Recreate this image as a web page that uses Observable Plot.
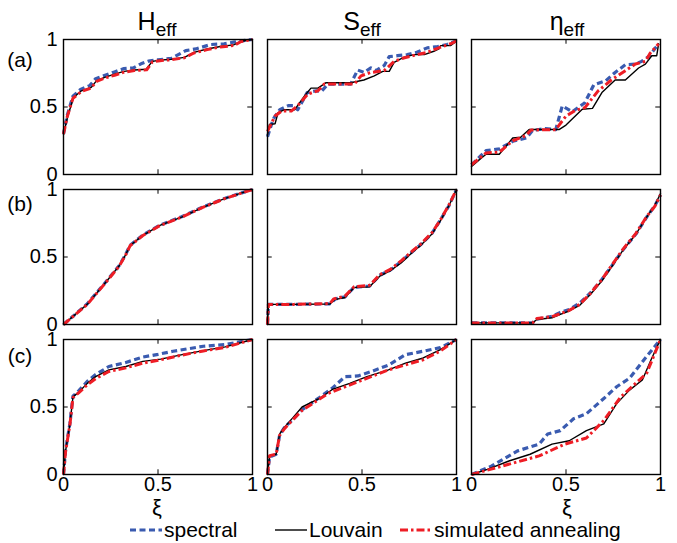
<!DOCTYPE html>
<html>
<head>
<meta charset="utf-8">
<script src="https://cdn.jsdelivr.net/npm/d3@7"></script>
<script src="https://cdn.jsdelivr.net/npm/@observablehq/plot@0.6"></script>
<style>
  html, body { margin: 0; padding: 0; background: #fff; }
  #chart { width: 677px; height: 543px; }
</style>
</head>
<body>
<div id="chart"></div>
<script>
// ---- categories & ticks ----
const colKeys = ["H", "S", "eta"];
const colSymbols = ["H", "S", "η"];
const rowKeys = ["a", "b", "c"];
const rowLabels = ["(a)", "(b)", "(c)"];
const xiTicks = [0, 0.5, 1];
const valueTicks = [0, 0.5, 1];
const seriesNames = ["spectral", "Louvain", "simulated annealing"];

// ---- row (a) ----
const a_H_spectral = [[0,0.30],[0.02,0.44],[0.05,0.58],[0.09,0.63],[0.14,0.66],[0.17,0.71],[0.22,0.735],[0.27,0.76],[0.32,0.785],[0.37,0.79],[0.41,0.82],[0.45,0.84],[0.5,0.85],[0.57,0.86],[0.647,0.918],[0.7,0.93],[0.78,0.963],[0.85,0.968],[0.9,0.98],[0.94,0.99],[1,1]];
const a_H_louvain = [[0,0.296],[0.02,0.42],[0.053,0.57],[0.095,0.62],[0.147,0.645],[0.174,0.694],[0.218,0.719],[0.27,0.744],[0.32,0.764],[0.375,0.774],[0.437,0.78],[0.47,0.838],[0.516,0.848],[0.568,0.853],[0.64,0.868],[0.69,0.905],[0.76,0.93],[0.83,0.948],[0.9,0.96],[0.94,0.987],[1,1]];
const a_H_annealing = [[0,0.3],[0.02,0.43],[0.05,0.565],[0.095,0.615],[0.145,0.64],[0.175,0.69],[0.22,0.715],[0.27,0.735],[0.32,0.758],[0.375,0.77],[0.44,0.775],[0.47,0.835],[0.52,0.845],[0.57,0.85],[0.64,0.865],[0.69,0.9],[0.76,0.925],[0.83,0.945],[0.9,0.955],[0.94,0.985],[1,1]];

const a_S_spectral = [[0,0.28],[0.03,0.41],[0.065,0.48],[0.11,0.51],[0.135,0.51],[0.16,0.48],[0.21,0.607],[0.258,0.62],[0.284,0.614],[0.32,0.67],[0.44,0.67],[0.477,0.774],[0.51,0.756],[0.547,0.79],[0.574,0.77],[0.617,0.806],[0.644,0.873],[0.688,0.88],[0.74,0.888],[0.79,0.905],[0.845,0.938],[0.9,0.948],[0.95,0.963],[1,0.99]];
const a_S_louvain = [[0,0.296],[0.01,0.37],[0.04,0.376],[0.056,0.458],[0.09,0.48],[0.144,0.48],[0.196,0.582],[0.23,0.64],[0.267,0.64],[0.31,0.68],[0.44,0.68],[0.51,0.70],[0.565,0.73],[0.61,0.764],[0.644,0.764],[0.67,0.83],[0.72,0.868],[0.775,0.888],[0.83,0.888],[0.88,0.913],[0.907,0.93],[0.916,0.955],[0.97,0.955],[1,0.99]];
const a_S_annealing = [[0,0.32],[0.04,0.433],[0.074,0.47],[0.126,0.47],[0.16,0.51],[0.214,0.597],[0.267,0.62],[0.3,0.67],[0.46,0.67],[0.495,0.731],[0.547,0.756],[0.617,0.769],[0.67,0.838],[0.72,0.863],[0.79,0.888],[0.845,0.905],[0.916,0.943],[0.977,0.973],[1,0.99]];

const a_E_spectral = [[0,0.072],[0.077,0.177],[0.147,0.19],[0.218,0.246],[0.29,0.27],[0.323,0.326],[0.39,0.34],[0.446,0.333],[0.48,0.507],[0.533,0.465],[0.6,0.532],[0.647,0.664],[0.71,0.694],[0.76,0.756],[0.814,0.813],[0.867,0.818],[0.9,0.838],[0.937,0.873],[0.99,0.968]];
const a_E_louvain = [[0,0.06],[0.042,0.11],[0.077,0.15],[0.147,0.15],[0.218,0.27],[0.26,0.276],[0.305,0.333],[0.463,0.333],[0.5,0.366],[0.586,0.483],[0.64,0.49],[0.69,0.607],[0.76,0.7],[0.814,0.7],[0.884,0.789],[0.92,0.818],[0.954,0.88],[0.98,0.88],[0.99,0.968]];
const a_E_annealing = [[0,0.072],[0.077,0.16],[0.147,0.165],[0.218,0.25],[0.29,0.29],[0.315,0.33],[0.445,0.332],[0.5,0.433],[0.55,0.475],[0.6,0.495],[0.67,0.619],[0.74,0.7],[0.814,0.769],[0.867,0.818],[0.92,0.838],[0.945,0.898],[0.99,0.968]];

// ---- row (b) ----
const b_H_spectral = [[0,0],[0.125,0.152],[0.216,0.302],[0.295,0.437],[0.33,0.522],[0.352,0.587],[0.42,0.662],[0.51,0.736],[0.625,0.798],[0.74,0.872],[0.852,0.934],[0.943,0.975],[1,1]];
const b_H_louvain = [[0,0],[0.125,0.149],[0.216,0.3],[0.295,0.435],[0.33,0.52],[0.352,0.585],[0.42,0.66],[0.51,0.734],[0.625,0.796],[0.74,0.87],[0.852,0.933],[0.943,0.975],[1,1]];
const b_H_annealing = [[0,0],[0.125,0.148],[0.216,0.298],[0.295,0.433],[0.33,0.518],[0.352,0.583],[0.42,0.659],[0.51,0.733],[0.625,0.795],[0.74,0.869],[0.852,0.932],[0.943,0.974],[1,1]];

const b_S_spectral = [[0,0],[0.005,0.149],[0.137,0.149],[0.33,0.153],[0.36,0.19],[0.41,0.205],[0.458,0.276],[0.54,0.285],[0.595,0.365],[0.652,0.405],[0.71,0.47],[0.767,0.54],[0.81,0.59],[0.87,0.675],[0.915,0.775],[0.96,0.88],[1,1]];
const b_S_louvain = [[0,0],[0.005,0.149],[0.137,0.149],[0.33,0.152],[0.355,0.184],[0.41,0.2],[0.458,0.274],[0.54,0.279],[0.595,0.36],[0.652,0.4],[0.71,0.46],[0.767,0.535],[0.81,0.585],[0.87,0.67],[0.915,0.77],[0.96,0.88],[1,1]];
const b_S_annealing = [[0,0],[0.005,0.149],[0.137,0.149],[0.33,0.155],[0.35,0.19],[0.41,0.21],[0.458,0.28],[0.54,0.29],[0.595,0.37],[0.652,0.41],[0.71,0.475],[0.767,0.545],[0.81,0.595],[0.87,0.68],[0.915,0.775],[0.96,0.885],[1,1]];

const b_E_spectral = [[0,0.012],[0.323,0.012],[0.346,0.04],[0.426,0.06],[0.47,0.09],[0.517,0.11],[0.574,0.16],[0.63,0.235],[0.688,0.33],[0.745,0.44],[0.8,0.55],[0.87,0.67],[0.927,0.796],[0.97,0.88],[1,0.96]];
const b_E_louvain = [[0,0.012],[0.323,0.012],[0.346,0.037],[0.426,0.05],[0.47,0.075],[0.517,0.1],[0.574,0.144],[0.63,0.224],[0.688,0.32],[0.745,0.435],[0.8,0.547],[0.87,0.67],[0.927,0.796],[0.97,0.883],[1,0.97]];
const b_E_annealing = [[0,0.012],[0.323,0.012],[0.346,0.045],[0.426,0.058],[0.47,0.08],[0.517,0.105],[0.574,0.15],[0.63,0.232],[0.688,0.33],[0.745,0.445],[0.8,0.555],[0.87,0.675],[0.927,0.8],[0.97,0.875],[1,0.96]];

// ---- row (c) ----
const c_H_spectral = [[0,0],[0.011,0.18],[0.034,0.38],[0.05,0.58],[0.08,0.62],[0.126,0.69],[0.17,0.74],[0.24,0.80],[0.33,0.83],[0.42,0.87],[0.5,0.89],[0.58,0.913],[0.74,0.95],[0.856,0.963],[1,1]];
const c_H_louvain = [[0,0],[0.011,0.175],[0.034,0.375],[0.05,0.575],[0.08,0.61],[0.126,0.675],[0.17,0.725],[0.24,0.775],[0.33,0.8],[0.42,0.838],[0.514,0.855],[0.628,0.888],[0.74,0.918],[0.856,0.945],[1,1]];
const c_H_annealing = [[0,0],[0.011,0.17],[0.034,0.37],[0.05,0.57],[0.08,0.605],[0.126,0.665],[0.17,0.71],[0.24,0.763],[0.33,0.79],[0.42,0.825],[0.514,0.85],[0.628,0.885],[0.74,0.915],[0.856,0.942],[1,1]];

const c_S_spectral = [[0,0],[0.011,0.13],[0.046,0.15],[0.064,0.29],[0.09,0.35],[0.137,0.41],[0.183,0.48],[0.275,0.57],[0.343,0.64],[0.41,0.725],[0.48,0.73],[0.55,0.763],[0.64,0.81],[0.73,0.888],[0.824,0.913],[0.915,0.94],[1,1]];
const c_S_louvain = [[0,0],[0.011,0.138],[0.046,0.15],[0.064,0.3],[0.09,0.35],[0.137,0.425],[0.183,0.5],[0.275,0.563],[0.343,0.63],[0.435,0.675],[0.526,0.725],[0.64,0.775],[0.73,0.825],[0.824,0.863],[0.915,0.925],[1,1]];
const c_S_annealing = [[0,0],[0.011,0.14],[0.046,0.15],[0.064,0.29],[0.09,0.34],[0.137,0.41],[0.183,0.475],[0.32,0.6],[0.48,0.688],[0.64,0.775],[0.824,0.85],[0.915,0.915],[1,1]];

const c_E_spectral = [[0,0],[0.107,0.063],[0.244,0.175],[0.358,0.225],[0.403,0.3],[0.47,0.325],[0.54,0.413],[0.608,0.45],[0.7,0.563],[0.768,0.65],[0.836,0.713],[0.927,0.875],[1,1]];
const c_E_louvain = [[0,0],[0.084,0.038],[0.198,0.1],[0.31,0.15],[0.426,0.225],[0.517,0.25],[0.608,0.325],[0.7,0.375],[0.768,0.525],[0.836,0.625],[0.904,0.7],[0.95,0.85],[1,1]];
const c_E_annealing = [[0,0],[0.13,0.05],[0.358,0.138],[0.494,0.225],[0.608,0.27],[0.7,0.4],[0.79,0.575],[0.927,0.75],[1,1]];

// ---- assemble records (one per point) ----
const panels = [
  ["a","H",a_H_spectral,a_H_louvain,a_H_annealing],
  ["a","S",a_S_spectral,a_S_louvain,a_S_annealing],
  ["a","eta",a_E_spectral,a_E_louvain,a_E_annealing],
  ["b","H",b_H_spectral,b_H_louvain,b_H_annealing],
  ["b","S",b_S_spectral,b_S_louvain,b_S_annealing],
  ["b","eta",b_E_spectral,b_E_louvain,b_E_annealing],
  ["c","H",c_H_spectral,c_H_louvain,c_H_annealing],
  ["c","S",c_S_spectral,c_S_louvain,c_S_annealing],
  ["c","eta",c_E_spectral,c_E_louvain,c_E_annealing]
];
const bySeries = {spectral: [], Louvain: [], "simulated annealing": []};
for (const [row, col, s, l, an] of panels) {
  [s, l, an].forEach((arr, i) => {
    for (const [x, y] of arr) bySeries[seriesNames[i]].push({row, col, x, y});
  });
}

const BLUE = "#3a5bb0";
const RED = "#ee1d25";
const BLUE_DASH = "6,3.5";
const RED_DASH = "8,3,2.5,3";
const FONT = "'Liberation Sans', Arial, Helvetica, sans-serif";

const chart = Plot.plot({
  width: 677,
  height: 543,
  marginLeft: 62,
  marginRight: 15,
  marginTop: 39,
  marginBottom: 69,
  style: {fontFamily: FONT, fontSize: "20px", color: "black", background: "white", overflow: "visible"},
  x: {domain: [0, 1]},
  y: {domain: [0, 1]},
  fx: {domain: colKeys, paddingInner: 0.073, paddingOuter: 0, axis: null},
  fy: {domain: rowKeys, paddingInner: 0.1, paddingOuter: 0, axis: null},
  marks: [
    Plot.ruleX(xiTicks, {x: d => d, y1: 0, y2: 0.035, stroke: "black", strokeWidth: 1}),
    Plot.ruleX(xiTicks, {x: d => d, y1: 0.965, y2: 1, stroke: "black", strokeWidth: 1}),
    Plot.ruleY(valueTicks, {y: d => d, x1: 0, x2: 0.025, stroke: "black", strokeWidth: 1}),
    Plot.ruleY(valueTicks, {y: d => d, x1: 0.975, x2: 1, stroke: "black", strokeWidth: 1}),
    Plot.line(bySeries["spectral"], {x: "x", y: "y", fx: "col", fy: "row", stroke: BLUE, strokeWidth: 3.2, strokeDasharray: BLUE_DASH, strokeLinecap: "butt"}),
    Plot.line(bySeries["Louvain"], {x: "x", y: "y", fx: "col", fy: "row", stroke: "black", strokeWidth: 1.4}),
    Plot.line(bySeries["simulated annealing"], {x: "x", y: "y", fx: "col", fy: "row", stroke: RED, strokeWidth: 3, strokeDasharray: RED_DASH, strokeLinecap: "butt"}),
    Plot.frame({stroke: "black", strokeWidth: 1.4}),
    Plot.axisX({ticks: xiTicks, tickSize: 0, tickPadding: 2, tickFormat: d => String(d), label: null}),
    Plot.axisY({ticks: valueTicks, tickSize: 0, tickPadding: 6, tickFormat: d => String(d), label: null})
  ]
});

document.getElementById("chart").appendChild(chart);

// ---- titles, row labels, ξ labels, legend (real SVG text) ----
const svg = d3.select(chart);
const colCenters = [157, 362, 567];
colSymbols.forEach((sym, i) => {
  const t = svg.append("text")
    .attr("x", colCenters[i]).attr("y", 30)
    .attr("text-anchor", "middle")
    .attr("font-family", FONT).attr("fill", "black");
  t.append("tspan").attr("font-size", 25).text(sym);
  t.append("tspan").attr("font-size", 19).attr("dy", 6).text("eff");
});
const rowCenters = [60, 204, 356];
rowLabels.forEach((lab, i) => {
  svg.append("text")
    .attr("x", 20).attr("y", rowCenters[i])
    .attr("dy", "0.35em")
    .attr("text-anchor", "middle")
    .attr("font-family", FONT).attr("font-size", 21).attr("fill", "black")
    .text(lab);
});
[0, 2].forEach(i => {
  svg.append("text")
    .attr("x", colCenters[i]).attr("y", 515)
    .attr("text-anchor", "middle")
    .attr("font-family", FONT).attr("font-size", 22).attr("fill", "black")
    .text("ξ");
});
const legendItems = [
  {name: seriesNames[0], x: 130, stroke: BLUE, width: 3.2, dash: BLUE_DASH},
  {name: seriesNames[1], x: 275, stroke: "black", width: 1.4, dash: null},
  {name: seriesNames[2], x: 400, stroke: RED, width: 3, dash: RED_DASH}
];
const ly = 530;
legendItems.forEach(it => {
  svg.append("line")
    .attr("x1", it.x).attr("x2", it.x + 32).attr("y1", ly).attr("y2", ly)
    .attr("stroke", it.stroke).attr("stroke-width", it.width)
    .attr("stroke-dasharray", it.dash);
  svg.append("text")
    .attr("x", it.x + 34).attr("y", ly).attr("dy", "0.35em")
    .attr("text-anchor", "start")
    .attr("font-family", FONT).attr("font-size", 21).attr("fill", "black")
    .text(it.name);
});
</script>
</body>
</html>
